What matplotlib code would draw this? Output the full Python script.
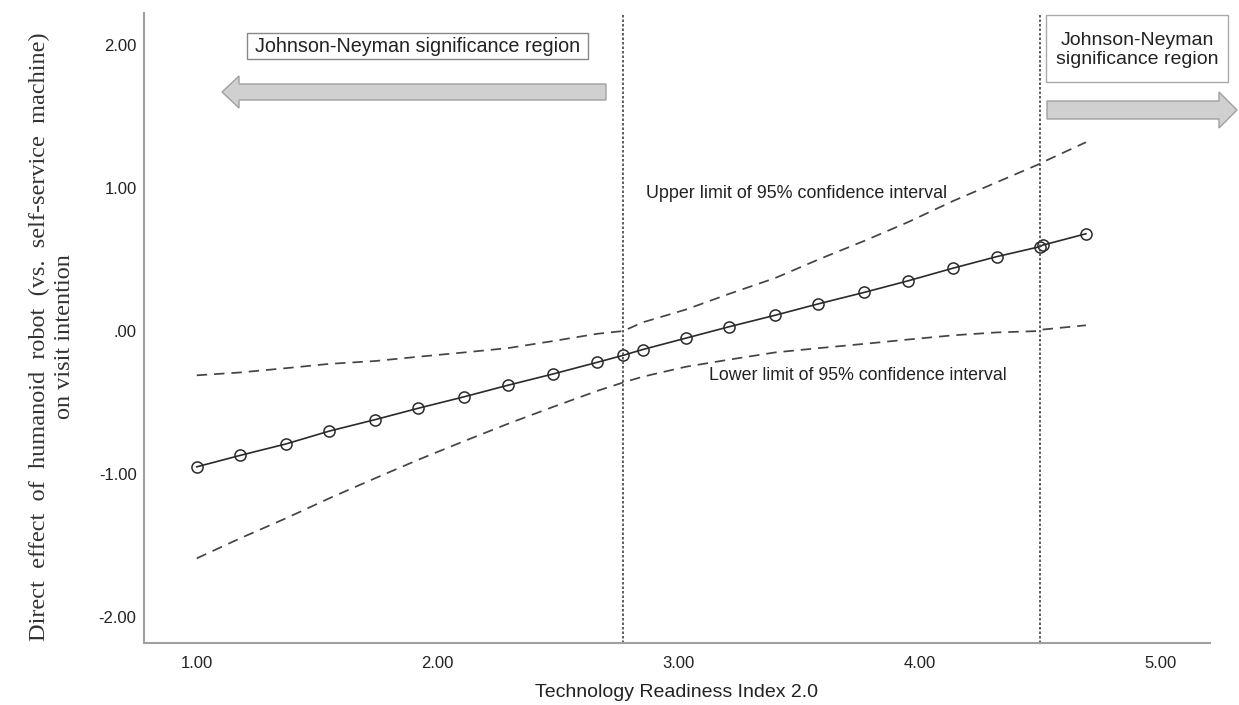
import numpy as np
import matplotlib.pyplot as plt
import matplotlib.patches as mpatches

# ---- Datos (Johnson-Neyman) ----
x_vals = [1.00, 1.18, 1.37, 1.55, 1.74, 1.92, 2.11, 2.29, 2.48, 2.66, 2.77,
          2.85, 3.03, 3.21, 3.40, 3.58, 3.77, 3.95, 4.14, 4.32, 4.50, 4.51, 4.69]
effect = [-0.95, -0.87, -0.79, -0.70, -0.62, -0.54, -0.46, -0.38, -0.30, -0.22, -0.17,
          -0.13, -0.05, 0.03, 0.11, 0.19, 0.27, 0.35, 0.44, 0.52, 0.59, 0.60, 0.68]
ci_upper = [-0.31, -0.29, -0.26, -0.23, -0.21, -0.18, -0.15, -0.12, -0.07, -0.02, 0.00,
            0.06, 0.15, 0.26, 0.37, 0.50, 0.63, 0.76, 0.91, 1.04, 1.17, 1.18, 1.32]
ci_lower = [-1.59, -1.45, -1.31, -1.17, -1.03, -0.90, -0.77, -0.65, -0.53, -0.42, -0.36,
            -0.32, -0.25, -0.20, -0.15, -0.12, -0.09, -0.06, -0.03, -0.01, 0.00, 0.01, 0.04]
jn_points = [2.77, 4.50]

x_ticks = [1, 2, 3, 4, 5]
x_tick_labels = ['1.00', '2.00', '3.00', '4.00', '5.00']
y_ticks = [-2, -1, 0, 1, 2]
y_tick_labels = ['-2.00', '-1.00', '.00', '1.00', '2.00']

W, H = 1239, 705

def px(x, y):
    # pixel -> fraccion de figura
    return x / W, 1 - y / H

plt.rcParams['font.family'] = ['Liberation Sans', 'DejaVu Sans']

fig = plt.figure(figsize=(W / 100, H / 100), dpi=100)
ax = fig.add_axes([143.5 / W, 1 - 643 / H, (1210 - 143.5) / W, (643 - 12.7) / H])

# ---- Lineas ----
dash = (0, (6.0, 4.0))
ax.plot(x_vals, ci_upper, color='#444444', lw=1.25, linestyle=dash)
ax.plot(x_vals, ci_lower, color='#444444', lw=1.25, linestyle=dash)
ax.plot(x_vals, effect, color='#2a2a2a', lw=1.2, marker='o', markersize=8,
        markerfacecolor='none', markeredgecolor='#2a2a2a', markeredgewidth=1.1)
for xj in jn_points:
    ax.axvline(xj, color='#444444', lw=1.2, linestyle=(0, (1.5, 1.2)))

ax.set_xlim(0.779, 5.205)
ax.set_ylim(-2.182, 2.226)
ax.set_xticks(x_ticks)
ax.set_xticklabels(x_tick_labels)
ax.set_yticks(y_ticks)
ax.set_yticklabels(y_tick_labels)
ax.tick_params(length=0, labelsize=12, colors='#222222')
ax.tick_params(axis='x', pad=9)
ax.tick_params(axis='y', pad=5)
for s in ['top', 'right']:
    ax.spines[s].set_visible(False)
for s in ['left', 'bottom']:
    ax.spines[s].set_color('#a0a0a0')
    ax.spines[s].set_linewidth(1.5)

ax.set_xlabel('Technology Readiness Index 2.0', fontsize=14, color='#222222', labelpad=10)

fig.text(*px(52, 337),
         'Direct  effect  of  humanoid  robot  (vs.  self-service  machine)\non visit intention',
         rotation=90, ha='center', va='center', multialignment='center', fontsize=17.5,
         family='Liberation Serif', color='#333333', linespacing=1.2)

# ---- Anotaciones ----
fig.text(*px(646, 193), 'Upper limit of 95% confidence interval', fontsize=12.9,
         ha='left', va='center', color='#222222')
fig.text(*px(709, 376), 'Lower limit of 95% confidence interval', fontsize=12.8,
         ha='left', va='center', color='#222222')

box1 = mpatches.Rectangle(px(247, 59), 341 / W, 26 / H, transform=fig.transFigure,
                          facecolor='white', edgecolor='#888888', lw=1.0)
fig.patches.append(box1)
fig.text(*px(418, 46), 'Johnson-Neyman significance region', fontsize=14.2,
         ha='center', va='center', color='#222222')

box2 = mpatches.Rectangle(px(1046, 82), 182 / W, 67 / H, transform=fig.transFigure,
                          facecolor='white', edgecolor='#aaaaaa', lw=1.0)
fig.patches.append(box2)
fig.text(*px(1137, 50), 'Johnson-Neyman\nsignificance region', fontsize=14,
         ha='center', va='center', color='#222222', linespacing=1.15)

# flechas grises
x0, y0 = px(606, 92)
x1, _ = px(222, 92)
arr1 = mpatches.FancyArrow(x0, y0, x1 - x0, 0, width=16 / H, head_width=32 / H,
                           head_length=17 / W, length_includes_head=True,
                           transform=fig.transFigure, facecolor='#d0d0d0',
                           edgecolor='#a0a0a0', lw=1.0)
fig.patches.append(arr1)
x0, y0 = px(1047, 110)
x1, _ = px(1237, 110)
arr2 = mpatches.FancyArrow(x0, y0, x1 - x0, 0, width=18 / H, head_width=36 / H,
                           head_length=18 / W, length_includes_head=True,
                           transform=fig.transFigure, facecolor='#d0d0d0',
                           edgecolor='#a0a0a0', lw=1.0)
fig.patches.append(arr2)

fig.savefig('out.png', dpi=100)
